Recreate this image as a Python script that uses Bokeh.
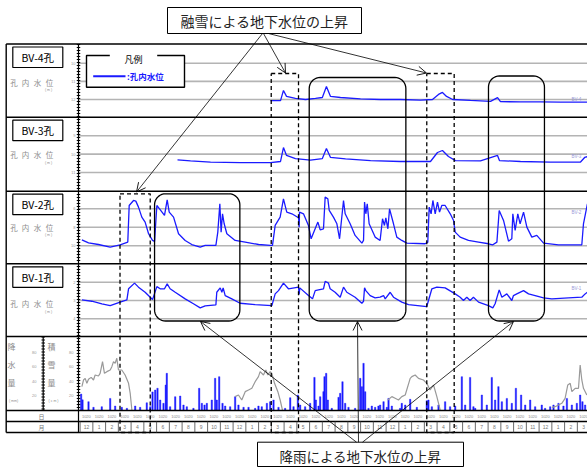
import numpy as np
from bokeh.plotting import figure
from bokeh.models import Range1d, Arrow, OpenHead
from bokeh.core.properties import value
from bokeh.embed import file_html
from bokeh.resources import INLINE

JP = value("Noto Sans CJK JP")

# ---------------- data ----------------
# time axis: months since the start of the first December shown
month_labels = [12, 1, 2, 3, 4, 5, 6, 7, 8, 9, 10, 11, 12, 1, 2, 3, 4, 5, 6, 7, 8, 9, 10, 11,
                12, 1, 2, 3, 4, 5, 6, 7, 8, 9, 10, 11, 12, 1, 2, 3]

# borehole water level (depth, m)
bv4_t = [14.93, 15.72, 15.95, 16.19, 16.89, 17.68, 18.46, 19.0, 19.32, 19.64, 20.42, 21.99, 23.56,
         25.13, 26.70, 27.64, 28.11, 28.42, 28.74, 29.22, 30.62, 32.19, 32.74, 32.97, 34.54, 36.11,
         37.68, 39.8]
bv4_d = [12.06, 12.06, 11.50, 11.83, 11.94, 12.0, 11.94, 11.89, 11.28, 11.83, 11.89, 11.97, 12.0,
         12.0, 12.03, 12.0, 11.72, 11.61, 11.83, 12.0, 12.05, 12.1, 11.9, 12.12, 12.13, 12.13,
         12.14, 12.14]

bv3_t = [7.64, 8.66, 10.23, 12.58, 14.93, 15.72, 15.95, 16.19, 16.89, 18.07, 19.0, 19.32, 19.64,
         20.82, 22.78, 25.13, 27.48, 28.03, 28.42, 28.89, 29.44, 31.40, 32.74, 32.89, 34.54, 36.89,
         39.25, 39.57, 39.8]
bv3_d = [10.31, 10.37, 10.43, 10.46, 10.46, 10.40, 9.64, 10.07, 10.24, 10.32, 10.24, 9.69, 10.18,
         10.26, 10.35, 10.40, 10.40, 9.91, 9.80, 10.13, 10.35, 10.37, 10.07, 10.35, 10.40, 10.43,
         10.43, 10.18, 10.13]

bv2_t = [0.14, 0.66, 1.44, 2.36, 3.14, 3.74, 3.85, 4.19, 4.37, 4.58, 4.84, 5.10, 5.37, 5.68, 5.84,
         6.02, 6.23, 6.62, 6.83, 6.99, 7.33, 7.72, 8.24, 8.76, 9.42, 9.81, 10.65, 10.80, 10.96,
         11.06, 11.17, 11.30, 11.51, 12.16, 12.95, 14.0, 14.91, 15.09, 15.30, 15.69, 15.95, 16.21,
         16.61, 17.13, 17.18, 17.21, 17.52, 17.91, 18.12, 18.49, 18.65, 18.83, 19.09, 19.22, 19.43,
         19.54, 19.87, 20.14, 20.35, 20.66, 20.79, 21.18, 21.57, 22.10, 22.23, 22.31, 22.41, 22.52,
         22.67, 23.14, 23.53, 23.72, 23.87, 23.98, 24.14, 24.27, 24.58, 24.84, 25.23, 25.63, 27.06,
         27.27, 27.38, 27.53, 27.67, 27.85, 28.03, 28.19, 28.37, 28.63, 29.03, 29.29, 29.42, 29.81,
         30.46, 31.25, 32.03, 32.37, 32.69, 32.87, 33.21, 33.60, 33.86, 33.94, 34.12, 34.33, 34.51,
         34.78, 35.04, 35.43, 35.82, 36.35, 37.52, 39.35, 39.48, 39.79]
bv2_d = [9.35, 9.68, 9.86, 10.14, 9.89, 9.60, 5.64, 5.10, 5.17, 5.82, 6.90, 7.44, 8.70, 9.42, 9.53,
         5.64, 6.00, 6.72, 5.03, 6.36, 6.90, 8.70, 9.42, 9.86, 10.14, 9.96, 9.96, 8.52, 5.46,
         8.52, 6.54, 7.62, 8.70, 9.42, 9.60, 9.86, 9.96, 9.96, 7.80, 6.90, 4.92, 6.36,
         6.54, 6.97, 7.98, 6.36, 6.54, 7.80, 9.24, 7.98, 7.44, 8.27, 8.16, 4.74, 4.92,
         6.18, 6.90, 7.62, 9.24, 5.10, 6.54, 7.62, 8.88, 9.71, 9.42, 5.28, 6.54, 5.46,
         7.62, 9.06, 9.42, 7.08, 7.80, 6.97, 8.16, 6.00, 7.62, 9.06, 9.42, 9.71, 9.78,
         9.60, 5.82, 6.54, 5.10, 6.54, 5.28, 6.36, 5.64, 5.64, 6.54, 7.26, 8.52, 9.06,
         9.42, 9.60, 9.78, 9.89, 9.60, 6.18, 7.26, 9.50, 9.24, 6.54, 8.34, 6.54, 7.62,
         6.36, 7.98, 9.06, 8.88, 9.71, 9.89, 9.89, 7.62, 5.46]

bv1_t = [0.14, 0.92, 1.71, 2.36, 3.14, 3.67, 3.80, 4.27, 4.58, 5.10, 5.68, 6.02, 6.28, 6.62, 6.83,
         7.06, 7.46, 8.24, 8.89, 9.42, 9.81, 10.65, 10.72, 10.99, 11.12, 11.22, 11.38, 11.90, 12.55,
         13.73, 15.04, 15.30, 15.56, 15.95, 16.34, 17.13, 17.18, 17.23, 17.91, 18.23, 18.44, 18.70,
         19.09, 19.22, 19.48, 19.61, 20.0, 20.40, 20.66, 20.92, 21.57, 22.10, 22.23, 22.31, 22.41,
         22.75, 23.14, 23.53, 23.80, 23.93, 24.32, 24.58, 25.23, 25.76, 27.19, 27.59, 27.98, 28.63,
         29.42, 29.81, 30.07, 30.33, 30.59, 30.85, 31.25, 32.03, 32.37, 32.55, 32.87, 33.08, 33.47,
         33.86, 33.99, 34.25, 34.78, 35.17, 35.69, 36.35, 37.0, 38.30, 39.35, 39.61, 39.79]
bv1_d = [2.97, 3.04, 3.18, 3.28, 3.09, 2.97, 2.36, 2.05, 2.27, 2.55, 2.95, 2.24, 2.36, 2.36, 2.09,
         2.36, 2.55, 2.91, 3.18, 3.40, 3.29, 3.24, 2.55, 2.31, 2.55, 2.31, 2.73, 2.91, 3.15,
         3.22, 3.28, 2.64, 2.46, 2.05, 2.36, 2.27, 2.67, 2.31, 2.73, 2.91, 2.46, 2.42,
         2.36, 1.95, 2.05, 2.36, 2.55, 2.82, 2.27, 2.55, 2.82, 3.15, 3.04, 2.31, 2.46,
         2.73, 2.86, 2.82, 2.73, 2.91, 2.55, 2.82, 3.09, 3.22, 3.33, 2.36, 2.27, 2.31,
         2.64, 2.82, 3.00, 2.82, 3.00, 2.82, 3.09, 3.28, 3.40, 3.18, 2.42, 2.82, 2.64,
         3.00, 2.73, 2.64, 2.46, 2.64, 2.73, 2.86, 2.91, 2.86, 2.82, 2.64, 2.55]

# daily precipitation (mm)
rain_t = [0.08, 0.19, 0.66, 1.05, 1.70, 2.36, 2.75, 3.27, 3.67, 4.32, 4.71, 5.23, 5.50, 5.68, 5.89,
          6.07, 6.28, 6.54, 6.72, 6.80, 7.06, 7.46, 7.85, 8.11, 8.37, 8.89, 9.34, 9.55, 9.76, 9.94,
          10.33, 10.59, 10.72, 10.91, 11.17, 11.38, 11.77, 12.16, 12.42, 12.82, 13.21, 13.73, 13.99,
          14.25, 14.65, 14.91, 15.17, 15.56, 16.08, 16.48, 16.74, 17.08, 17.26, 17.65, 18.04, 18.38,
          18.49, 18.70, 18.83, 19.09, 19.17, 19.30, 19.43, 19.74, 20.27, 20.40, 20.58, 20.79, 21.05,
          21.57, 21.97, 22.10, 22.23, 22.36, 22.62, 22.88, 23.14, 23.40, 23.53, 23.80, 24.06, 24.19,
          24.45, 25.10, 25.23, 25.50, 25.89, 26.41, 27.19, 27.32, 27.59, 28.11, 28.63, 29.02, 29.42,
          29.94, 30.20, 30.59, 30.85, 30.99, 31.51, 31.90, 32.29, 32.55, 32.81, 33.08, 33.47, 33.86,
          34.18, 34.59, 34.91, 35.30, 35.69, 36.21, 36.47, 36.87, 37.13, 37.52, 37.91, 38.18, 38.57,
          38.96, 39.22, 39.40, 39.61]
rain_mm = [22, 14, 11.5, 3.7, 4.6, 16, 5.5, 3.7, 2.3, 5.5, 3.7, 10, 4.6, 25, 27.6,
           30, 13.8, 9.2, 34.5, 50.6, 4.6, 18.4, 19.3, 6.9, 4.6, 2.3, 30, 9.2, 6.9, 9.2,
           13.8, 43.7, 13.8, 46, 9.2, 5.5, 4.6, 18.4, 6.9, 3.7, 3.7, 2.3, 5.5,
           4.6, 9.2, 11.5, 13.8, 3.7, 2.3, 17, 4.6, 20.7, 6.9, 4.6, 9.2, 45,
           13.8, 5.5, 18.4, 25.3, 46, 50.6, 13.8, 2.3, 17.5, 23, 39, 9.2, 3.7,
           2.3, 43.7, 32.2, 64.4, 25.3, 2.3, 5.5, 3.7, 5.5, 6.9, 11.5, 3.7, 16,
           5.5, 2.3, 9.2, 6.9, 14.7, 3.7, 12.9, 13.8, 4.6, 6.9, 11.5, 4.6, 5.5,
           46, 6.9, 45, 4.6, 2.3, 20.7, 6.9, 45, 13.8, 32.2, 11.5, 16, 9.2,
           30, 20.7, 6.9, 13.8, 4.6, 6.9, 2.3, 4.6, 6.9, 9.2, 5.5, 16, 6.9,
           9.2, 20.7, 11.5, 6.9]

# snow depth (cm); NaN separates winters
snow_t = [0.14, 0.27, 0.40, 0.53, 0.66, 0.87, 1.05, 1.18, 1.44, 1.57, 1.76, 1.91, 2.10, 2.36, 2.49,
          2.62, 2.75, 2.88, 3.01, 3.27, 3.53, 3.80, 3.93, 4.06, np.nan,
          12.16, 12.42, 12.68, 12.95, 13.21, 13.47, 13.73, 13.99, 14.12, 14.38, 14.57, 14.72, 14.91,
          15.04, 15.25, 15.51, 15.69, 15.87, np.nan,
          24.14, 24.45, 24.71, 24.97, 25.23, 25.50, 25.89, 26.02, 26.28, 26.54, 26.93, 27.19, 27.45,
          27.72, 27.98, 28.24, np.nan,
          37.0, 37.26, 37.78, 38.04, 38.25, 38.44, 38.57, 38.83, 39.09, 39.22, 39.35, 39.48, 39.74]
snow_cm = [32.2, 41.4, 43.7, 36.8, 42.3, 45, 41.4, 48.3, 46.9, 50.6, 66.7, 50.6, 52.9, 55.2, 59.8,
           66.7, 64.4, 71.3, 55.2, 55.2, 48.3, 36.8, 23, 0, np.nan,
           18.4, 20.7, 13.8, 25.3, 27.6, 29.9, 39.1, 46, 52.9, 48.3, 55.2, 48.3, 52.9,
           50.6, 36.8, 25.3, 13.8, 0, np.nan,
           13.8, 18.4, 16.1, 13.8, 18.4, 20.7, 43.7, 46, 48.3, 43.7, 41.4, 36.8, 27.6,
           34.5, 18.4, 0, np.nan,
           3.7, 4.6, 9.2, 16.1, 34.5, 36.8, 25.3, 29.9, 29.9, 62, 41.4, 29.9, 20.7]

# highlighted periods (months)
snowmelt_periods = [(3.13, 5.50), (14.99, 17.13), (27.19, 29.34)]
rain_periods = [(5.84, 12.53), (17.97, 25.55), (32.03, 36.42)]

bv4_ticks = [10, 11, 12]
bv3_ticks = [9, 10, 11]
bv2_ticks = [6, 8, 10]
bv1_ticks = [2, 3, 4]
rain_ticks = [20, 40, 60, 80]

# ---------------- layout (page pixels) ----------------
W, H = 587, 467
XL, XR, YT, YB = 0, W, 0, H
X0, MW = 79.6, 12.75          # time axis origin and pixels per month

BLUE = "#1a1aff"
GRID = "#b4b4b4"
GRAY_TXT = "#8c8c8c"

p = figure(width=W, height=H, x_range=Range1d(XL, XR), y_range=Range1d(YB, YT),
           output_backend="svg", toolbar_location=None, min_border=0,
           x_axis_location=None, y_axis_location=None)
p.grid.visible = False
p.outline_line_color = None
p.background_fill_color = "white"
p.border_fill_color = "white"


def yrange(va, pa, vb, pb):
    s = (vb - va) / (pb - pa)
    return Range1d(start=va + (YB - pa) * s, end=va + (YT - pa) * s)


p.extra_x_ranges = {"t": Range1d(start=(XL - X0) / MW, end=(XR - X0) / MW)}
p.extra_y_ranges = {
    "bv4": yrange(10, 62.7, 12, 99.0),
    "bv3": yrange(9, 135.3, 11, 172.0),
    "bv2": yrange(6, 208.3, 10, 245.3),
    "bv1": yrange(2, 281.7, 4, 318.3),
    "rain": yrange(0, 409.5, 80, 351.5),
}

panels = [("bv4", "BV-4孔", 43.5, bv4_ticks, 81.7),
          ("bv3", "BV-3孔", 116.7, bv3_ticks, 154.3),
          ("bv2", "BV-2孔", 190.7, bv2_ticks, 226.7),
          ("bv1", "BV-1孔", 263.3, bv1_ticks, 303.3)]

# gridlines
for name, lab, top, ticks, ty in panels:
    p.segment(x0=[78] * len(ticks), x1=[XR] * len(ticks), y0=ticks, y1=ticks,
              y_range_name=name, line_color=GRID, line_width=1.6)
    p.text(x=[75] * len(ticks), y=ticks, text=[str(v) for v in ticks], y_range_name=name,
           text_font_size="4px", text_color="#999999", text_align="right", text_baseline="middle")

# water level series
for name, tt, dd in [("bv4", bv4_t, bv4_d), ("bv3", bv3_t, bv3_d),
                     ("bv2", bv2_t, bv2_d), ("bv1", bv1_t, bv1_d)]:
    p.line(tt, dd, x_range_name="t", y_range_name=name, line_color=BLUE, line_width=1.3)

# right-edge series labels
p.text(x=[571, 571, 571, 571], y=[99.3, 155.7, 211.7, 288.3], text=["BV-4", "BV-3", "BV-2", "BV-1"],
       text_font_size="4.5px", text_color="#9a9ad8", text_baseline="middle")

# rain and snow
p.vbar(x=rain_t, top=rain_mm, bottom=0, width=0.11, x_range_name="t", y_range_name="rain",
       fill_color=BLUE, line_color=BLUE, line_width=0.4)
p.line(snow_t, snow_cm, x_range_name="t", y_range_name="rain", line_color="#999999", line_width=1.2)
for xx in (36, 73):
    p.text(x=[xx] * 4, y=rain_ticks, text=[str(v) for v in rain_ticks], y_range_name="rain",
           text_font_size="4px", text_color="#999999", text_align="right", text_baseline="middle")

# frame lines
for yy in [43.5, 116.7, 190.7, 263.3, 336, 410, 421, 432]:
    p.line([5.7, XR], [yy, yy], line_color="black", line_width=1.4)
p.line([5.7, 5.7], [43.5, 432], line_color="black", line_width=1.4)
p.line([78, 78], [43.5, 432], line_color="black", line_width=1.2)
p.line([78, 78], [43.5, 410], line_color="black", line_width=3.5, line_dash="1 2")
p.line([42.7, 42.7], [336, 410], line_color="black", line_width=1.2)
p.line([42.7, 42.7], [336, 410], line_color="black", line_width=3.5, line_dash="1 2")

# month / day rows
mk = list(range(len(month_labels) + 1))
p.segment(x0=mk, x1=mk, y0=[421] * len(mk), y1=[432] * len(mk), x_range_name="t",
          line_color="#444444", line_width=0.8)
p.text(x=[k + 0.5 for k in range(len(month_labels))], y=[426.8] * len(month_labels),
       text=[str(m) for m in month_labels], x_range_name="t", text_font_size="5px",
       text_color="#777777", text_align="center", text_baseline="middle")
dx = [k + f for k in range(len(month_labels)) for f in (0.33, 0.66)]
dl = [s for k in range(len(month_labels)) for s in ("10", "20")]
p.text(x=dx, y=[415.6] * len(dx), text=dl, x_range_name="t", text_font_size="4px",
       text_color="#888888", text_align="center", text_baseline="middle")
p.text(x=[41, 41], y=[415.6, 427], text=["日", "月"], text_font=JP, text_font_size="6px",
       text_color="#777777", text_align="center", text_baseline="middle")

# left labels
for name, lab, top, ticks, ty in panels:
    p.quad(left=12.3, right=62.3, top=top + 3, bottom=top + 23.5, fill_color="white",
           line_color="black", line_width=1.2)
    p.text(x=[37.3], y=[top + 13.5], text=[lab], text_font=JP, text_font_size="10.5px",
           text_color="black", text_align="center", text_baseline="middle")
    p.text(x=[13.5, 25, 37, 49], y=[ty] * 4, text=["孔", "内", "水", "位"], text_font=JP,
           text_font_size="7.5px", text_color=GRAY_TXT, text_align="center", text_baseline="middle")
    p.text(x=[48], y=[ty + 8], text=["( m )"], text_font_size="3.5px", text_color=GRAY_TXT,
           text_align="center", text_baseline="middle")

p.text(x=[11, 11, 11, 51, 51, 51], y=[346, 363.5, 381.7, 346, 363.5, 381.7],
       text=["降", "水", "量", "積", "雪", "量"], text_font=JP, text_font_size="8px",
       text_color=GRAY_TXT, text_align="center", text_baseline="middle")
p.text(x=[13, 53], y=[400, 400], text=["( mm)", "( c m )"], text_font_size="3.5px",
       text_color=GRAY_TXT, text_align="center", text_baseline="middle")

# legend
p.quad(left=86, right=184, top=55, bottom=86.7, fill_color="white", line_color=None)
p.multi_line(xs=[[109.3, 86, 86, 184, 184, 156.7]], ys=[[55, 55, 86.7, 86.7, 55, 55]],
             line_color="black", line_width=1.4)
p.text(x=[133], y=[58.5], text=["凡例"], text_font=JP, text_font_size="9px",
       text_color="black", text_align="center", text_baseline="middle")
p.line([92.7, 125], [75.7, 75.7], line_color=BLUE, line_width=2)
p.text(x=[126.5], y=[75.7], text=[":孔内水位"], text_font=JP, text_font_size="8.5px",
       text_color=BLUE, text_font_style="bold", text_align="left", text_baseline="middle")


def rrect(x0, y0, x1, y1, r, n=10):
    xs, ys = [], []
    corners = [(x1 - r, y0 + r, -np.pi / 2, 0), (x1 - r, y1 - r, 0, np.pi / 2),
               (x0 + r, y1 - r, np.pi / 2, np.pi), (x0 + r, y0 + r, np.pi, 1.5 * np.pi)]
    for cx, cy, a0, a1 in corners:
        a = np.linspace(a0, a1, n)
        xs += list(cx + r * np.cos(a))
        ys += list(cy + r * np.sin(a))
    xs.append(xs[0]); ys.append(ys[0])
    return xs, ys


def px(t):
    return X0 + MW * t


# snowmelt windows (dashed)
for (a, b), top in zip(snowmelt_periods, [193.3, 73, 73]):
    p.multi_line(xs=[[px(a), px(b), px(b), px(a), px(a)]], ys=[[top, top, 432, 432, top]],
                 line_color="black", line_width=1.3, line_dash="4 3")

# rainfall windows (rounded)
for (a, b), top in zip(rain_periods, [193.3, 77, 75.5]):
    xs, ys = rrect(px(a), top, px(b), 320.5, 11)
    p.line(xs, ys, line_color="black", line_width=1.3)

# callout boxes
p.quad(left=167, right=361, top=7, bottom=33, fill_color="white", line_color="black", line_width=1)
p.text(x=[264], y=[20.5], text=["融雪による地下水位の上昇"], text_font=JP, text_font_size="14px",
       text_color="#222222", text_align="center", text_baseline="middle")
p.quad(left=257, right=463, top=441.7, bottom=466, fill_color="white", line_color="black",
       line_width=1)
p.text(x=[360], y=[455], text=["降雨による地下水位の上昇"], text_font=JP, text_font_size="13.5px",
       text_color="#222222", text_align="center", text_baseline="middle")

arrows = [((262, 33), (136, 191.5)), ((263, 33), (285, 72.5)), ((268, 33), (426, 72.5)),
          ((356, 441.7), (200, 321)), ((358, 441.7), (357, 321)), ((362, 441.7), (513, 321))]
for (xa, ya), (xb, yb) in arrows:
    p.add_layout(Arrow(end=OpenHead(size=9, line_width=0.9, line_color="black"),
                       x_start=xa, y_start=ya, x_end=xb, y_end=yb,
                       line_color="black", line_width=0.8))

open("out.html", "w").write(file_html(p, INLINE))
